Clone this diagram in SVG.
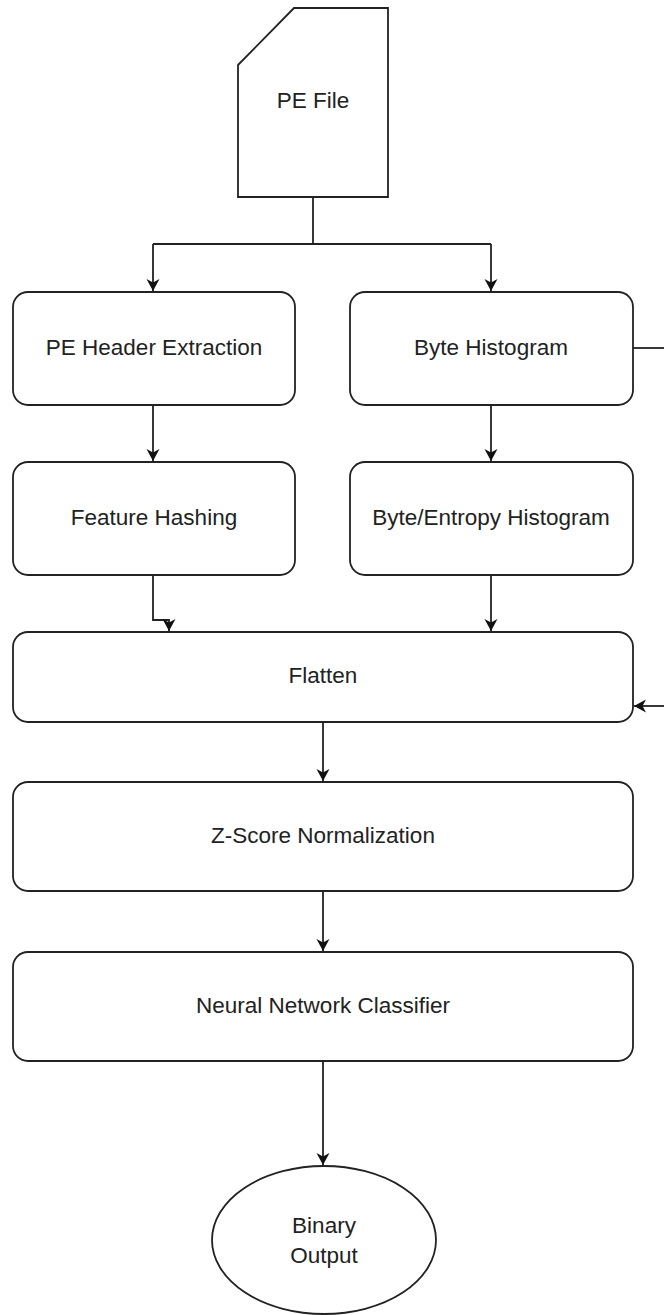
<svg xmlns="http://www.w3.org/2000/svg" width="664" height="1315" viewBox="0 0 664 1315">
<style>
.n{fill:#fff;stroke:#222;stroke-width:1.8}
.t{font-family:"Liberation Sans",Arial,sans-serif;font-size:22.5px;fill:#222;text-anchor:middle;dominant-baseline:central}
.c{fill:none;stroke:#222;stroke-width:1.8}
</style>
<defs>
<marker id="ah" markerWidth="14" markerHeight="14" refX="12" refY="6.5" orient="auto" markerUnits="userSpaceOnUse">
<path d="M0,0 L12,6.5 L0,13 L3.5,6.5 Z" fill="#111"/>
</marker>
</defs>
<rect width="664" height="1315" fill="#fff"/>
<g id="connectors">
<path class="c" d="M313,197 V244 M153,244 H491"/>
<path class="c" d="M153,244 V291" marker-end="url(#ah)"/>
<path class="c" d="M491,244 V291" marker-end="url(#ah)"/>
<path class="c" d="M153,405 V461" marker-end="url(#ah)"/>
<path class="c" d="M491,405 V461" marker-end="url(#ah)"/>
<path class="c" d="M153,575 V620 H169 V631" marker-end="url(#ah)"/>
<path class="c" d="M491,575 V631" marker-end="url(#ah)"/>
<path class="c" d="M633,348 H664"/>
<path class="c" d="M664,706 H634" marker-end="url(#ah)"/>
<path class="c" d="M323,722 V781" marker-end="url(#ah)"/>
<path class="c" d="M323,891 V951" marker-end="url(#ah)"/>
<path class="c" d="M323,1061 V1165" marker-end="url(#ah)"/>
</g>
<g id="pe-file">
<path class="n" d="M238,65 L294,8 H388 V197 H238 Z"/>
<text class="t" x="313" y="100">PE File</text>
</g>
<g id="pe-header">
<rect class="n" x="13" y="292" width="282" height="113" rx="15"/>
<text class="t" x="154" y="347">PE Header Extraction</text>
</g>
<g id="byte-histogram">
<rect class="n" x="350" y="292" width="283" height="113" rx="15"/>
<text class="t" x="491" y="347">Byte Histogram</text>
</g>
<g id="feature-hashing">
<rect class="n" x="13" y="462" width="282" height="113" rx="15"/>
<text class="t" x="154" y="517">Feature Hashing</text>
</g>
<g id="byte-entropy">
<rect class="n" x="350" y="462" width="283" height="113" rx="15"/>
<text class="t" x="491" y="517">Byte/Entropy Histogram</text>
</g>
<g id="flatten">
<rect class="n" x="13" y="632" width="620" height="90" rx="15"/>
<text class="t" x="323" y="675">Flatten</text>
</g>
<g id="zscore">
<rect class="n" x="13" y="782" width="620" height="109" rx="15"/>
<text class="t" x="323" y="835">Z-Score Normalization</text>
</g>
<g id="neural">
<rect class="n" x="13" y="952" width="620" height="109" rx="15"/>
<text class="t" x="323" y="1005">Neural Network Classifier</text>
</g>
<g id="binary-output">
<ellipse class="n" cx="324" cy="1240" rx="112" ry="74"/>
<text class="t" x="324" y="1225">Binary</text>
<text class="t" x="324" y="1255">Output</text>
</g>
</svg>
